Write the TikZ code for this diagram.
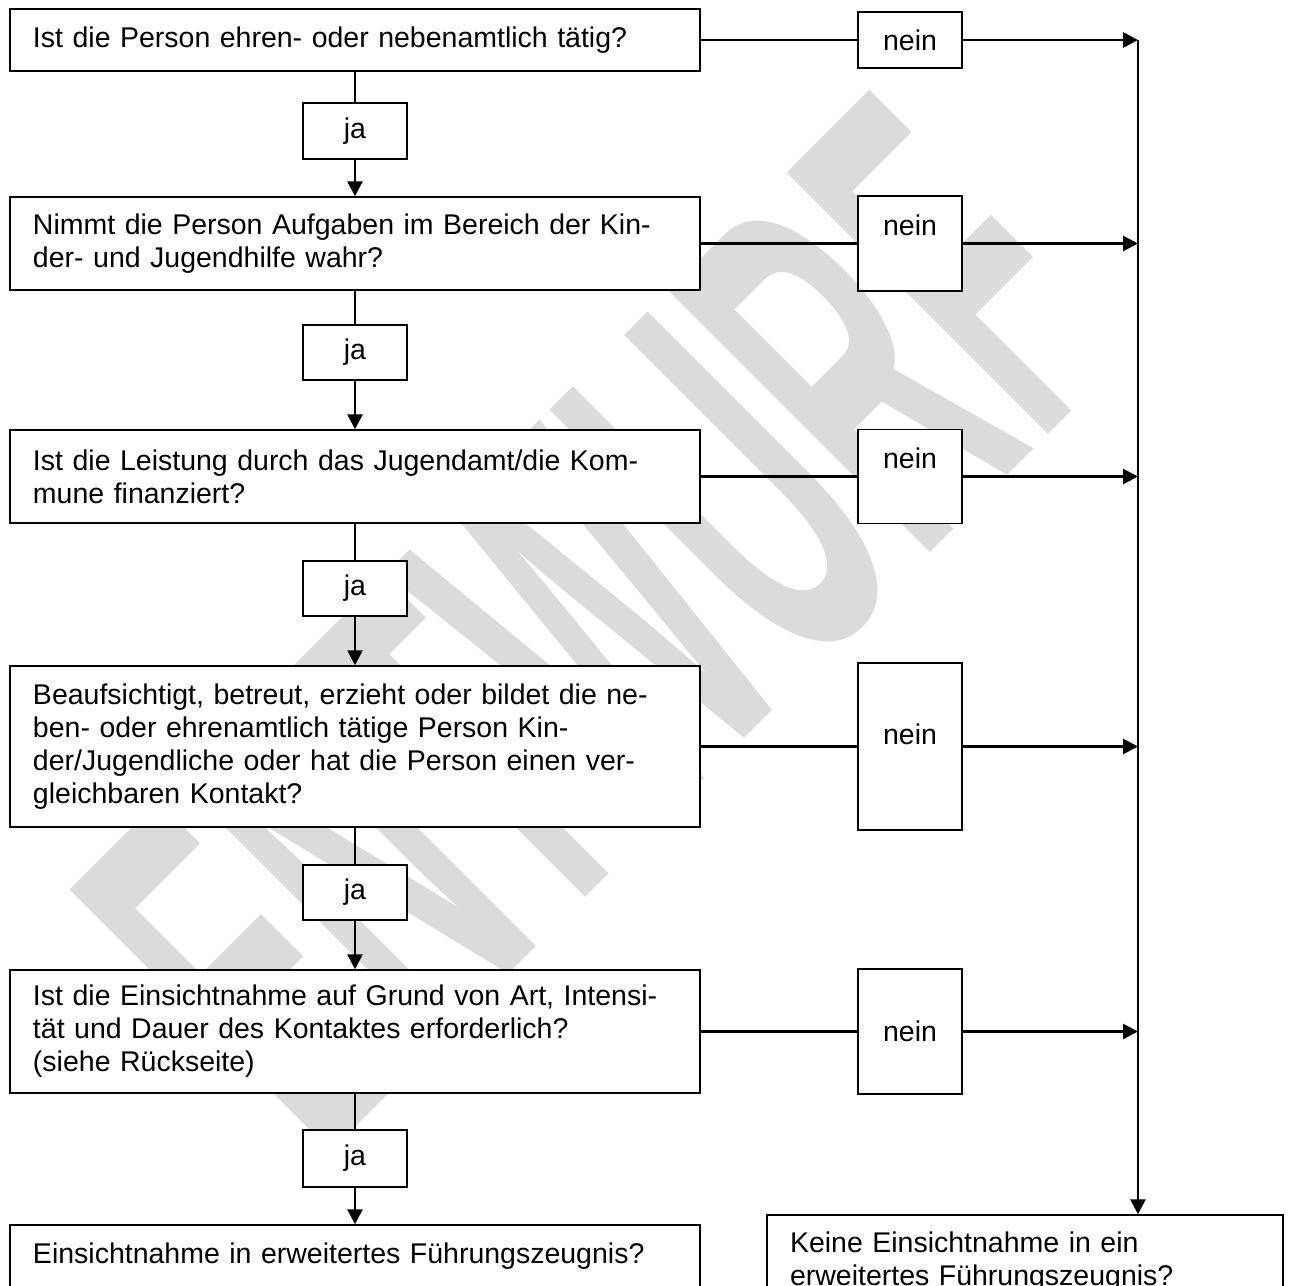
\documentclass[tikz,border=0pt]{standalone}
\usepackage{fontspec}
\setmainfont{Liberation Sans}
\usetikzlibrary{arrows.meta, positioning}
\tikzstyle{frage} = [rectangle, draw=black, line width=0.6pt, fill=white, text width=257.6pt, align=left, inner xsep=9.2pt, inner ysep=4pt, font=\fontsize{11.4}{13.2}\selectfont]
\tikzstyle{antwort} = [rectangle, draw=black, line width=0.6pt, fill=white, minimum width=41.6pt, minimum height=22pt, inner sep=0pt, font=\fontsize{11.4}{13.2}\selectfont]
\tikzstyle{myline} = [line width=1.1pt]
\tikzstyle{myarrow} = [->, >={Triangle[length=6pt,width=6pt]}, line width=1.1pt]

\begin{document}
\begin{tikzpicture}[x=0.4pt, y=-0.4pt]
\useasboundingbox (0,0) rectangle (1293,1286);
\clip (0,0) rectangle (1293,1286);
% Wasserzeichen
\node (wm) at (600,625) [rotate=45, text=black!14, font=\fontsize{215}{215}\bfseries\selectfont] {\scalebox{0.43}[1]{ENTWURF}};
% Fragen
\node (q1)[frage, minimum height=24.8pt] at (355,40) {Ist die Person ehren- oder nebenamtlich tätig?};
\node (q2)[frage, minimum height=37.2pt] at (355,243.5) {Nimmt die Person Aufgaben im Bereich der Kin-\\der- und Jugendhilfe wahr?};
\node (q3)[frage, minimum height=37.2pt] at (355,476.5) {Ist die Leistung durch das Jugendamt/die Kom-\\mune finanziert?};
\node (q4)[frage, minimum height=64.4pt] at (355,746.5) {Beaufsichtigt, betreut, erzieht oder bildet die ne-\\ben- oder ehrenamtlich tätige Person Kin-\\der/Jugendliche oder hat die Person einen ver-\\gleichbaren Kontakt?};
\node (q5)[frage, minimum height=49.2pt] at (355,1031.5) {Ist die Einsichtnahme auf Grund von Art, Intensi-\\tät und Dauer des Kontaktes erforderlich?\\(siehe Rückseite)};
% Ergebnisse
\node (erg1)[frage, minimum height=24.8pt] at (355,1256) {Einsichtnahme in erweitertes Führungszeugnis?};
\node (erg2)[frage, text width=188pt, minimum height=37.2pt] at (1025,1261.5) {Keine Einsichtnahme in ein\\erweitertes Führungszeugnis?};
% ja
\node (ja1)[antwort, minimum height=22.4pt] at (355,131) {ja};
\node (ja2)[antwort] at (355,352.5) {ja};
\node (ja3)[antwort] at (355,588.5) {ja};
\node (ja4)[antwort] at (355,892.5) {ja};
\node (ja5)[antwort, minimum height=22.8pt] at (355,1158.5) {ja};
% nein
\node (nein1)[antwort, minimum height=22.4pt] at (910,40) {nein};
\node (nein2)[antwort, text height=15.6pt, text depth=22.4pt] at (910,243.5) {nein};
\node (nein3)[antwort, text height=15.4pt, text depth=22.2pt] at (910,476.5) {nein};
\node (nein4)[antwort, text height=32.4pt, text depth=34.4pt] at (910,746.5) {nein};
\node (nein5)[antwort, minimum height=50pt] at (910,1031.5) {nein};
\coordinate (bus) at (1138,40);
% ja-Zweig
\draw [myline]  (q1) -- (ja1);
\draw [myarrow] (ja1) -- (q2);
\draw [myline]  (q2) -- (ja2);
\draw [myarrow] (ja2) -- (q3);
\draw [myline]  (q3) -- (ja3);
\draw [myarrow] (ja3) -- (q4);
\draw [myline]  (q4) -- (ja4);
\draw [myarrow] (ja4) -- (q5);
\draw [myline]  (q5) -- (ja5);
\draw [myarrow] (ja5) -- (erg1);
% nein-Zweig
\draw [myline]  (q1) -- (nein1);
\draw [myarrow] (nein1) -- (nein1 -| bus);
\draw [myline]  (q2) -- (nein2);
\draw [myarrow] (nein2) -- (nein2 -| bus);
\draw [myline]  (q3) -- (nein3);
\draw [myarrow] (nein3) -- (nein3 -| bus);
\draw [myline]  (q4) -- (nein4);
\draw [myarrow] (nein4) -- (nein4 -| bus);
\draw [myline]  (q5) -- (nein5);
\draw [myarrow] (nein5) -- (nein5 -| bus);
\draw [myarrow] (bus) -- (bus |- erg2.north);
\end{tikzpicture}
\end{document}
